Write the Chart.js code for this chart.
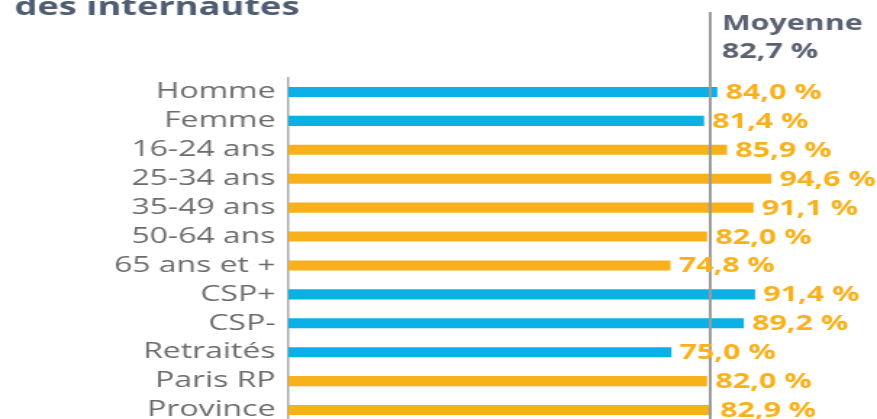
<!DOCTYPE html>
<html>
<head>
<meta charset="utf-8">
<script src="https://cdn.jsdelivr.net/npm/chart.js@4/dist/chart.umd.min.js"></script>
<style>
  html, body { margin: 0; padding: 0; width: 877px; height: 419px; overflow: hidden; background: #fff; }
  #wrap { width: 605px; height: 455px; transform: scaleX(1.4496); transform-origin: 0 0; }
  canvas { display: block; }
</style>
</head>
<body>
<div id="wrap"><canvas id="c" width="605" height="455"></canvas></div>
<script>
const title = 'des internautes';
const categories = ['Homme', 'Femme', '16-24 ans', '25-34 ans', '35-49 ans', '50-64 ans', '65 ans et +', 'CSP+', 'CSP-', 'Retraités', 'Paris RP', 'Province'];
const values = [84.0, 81.4, 85.9, 94.6, 91.1, 82.0, 74.8, 91.4, 89.2, 75.0, 82.0, 82.9];
const groups = ['sexe', 'sexe', 'age', 'age', 'age', 'age', 'age', 'csp', 'csp', 'csp', 'region', 'region'];
const meanLabel = 'Moyenne';
const meanValue = 82.7;

const groupColors = { sexe: '#0bb0e6', age: '#f8b01b', csp: '#0bb0e6', region: '#f8b01b' };
const fmt = v => v.toFixed(1).replace('.', ',') + ' %';

const annot = {
  id: 'annot',
  afterDatasetsDraw(chart) {
    const ctx = chart.ctx;
    const xs = chart.scales.x;
    const mx = xs.getPixelForValue(meanValue);
    ctx.save();
    // title
    ctx.fillStyle = '#4f5d72';
    ctx.font = 'bold 25px "Open Sans"';
    ctx.textBaseline = 'alphabetic';
    ctx.textAlign = 'left';
    ctx.fillText(title, 10, 15);
    // mean line
    ctx.strokeStyle = '#9b9b9b';
    ctx.lineWidth = 2;
    ctx.beginPath();
    ctx.moveTo(mx, 12);
    ctx.lineTo(mx, chart.height);
    ctx.stroke();
    // mean label
    ctx.fillStyle = '#5a6270';
    ctx.font = 'bold 21px "Open Sans"';
    ctx.fillText(meanLabel, mx + 8, 30);
    ctx.fillText(fmt(meanValue), mx + 8, 58);
    // value labels
    ctx.fillStyle = '#f8b01b';
    ctx.font = 'bold 21px "Open Sans"';
    ctx.textBaseline = 'middle';
    const meta = chart.getDatasetMeta(0);
    meta.data.forEach((bar, i) => {
      ctx.fillText(fmt(values[i]), bar.x + 6, bar.y + 1);
    });
    ctx.restore();
  }
};

new Chart(document.getElementById('c'), {
  type: 'bar',
  data: {
    labels: categories,
    datasets: [{
      data: values,
      backgroundColor: groups.map(g => groupColors[g]),
      barThickness: 9.5,
      borderWidth: 0
    }]
  },
  options: {
    indexAxis: 'y',
    responsive: false,
    animation: false,
    devicePixelRatio: 1,
    layout: { padding: { top: 77.5, right: 54.2, bottom: 30.5, left: 0 } },
    plugins: { legend: { display: false }, tooltip: { enabled: false }, title: { display: false } },
    scales: {
      x: { display: false, min: 0, max: 100 },
      y: {
        afterFit(scale) { scale.width = 199; },
        grid: { display: false, drawTicks: false },
        border: { display: true, color: '#ababab', width: 1.5 },
        ticks: { autoSkip: false, color: '#6c6c6c', font: { family: 'Open Sans', size: 22 }, padding: 9 }
      }
    }
  },
  plugins: [annot]
});
</script>
</body>
</html>
